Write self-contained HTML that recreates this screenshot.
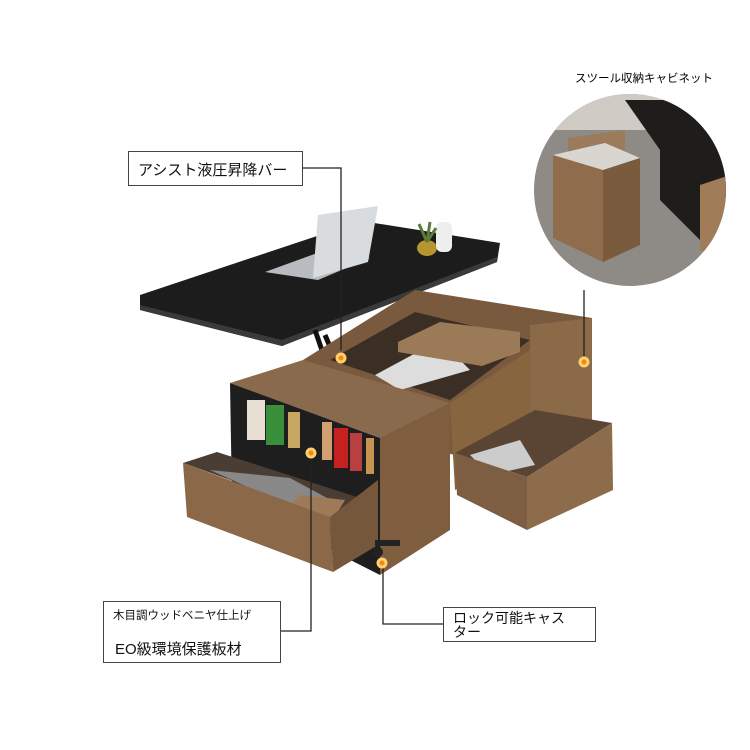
<!DOCTYPE html>
<html><head><meta charset="utf-8"><style>
html,body{margin:0;padding:0;background:#fff;}
body{width:750px;height:750px;position:relative;overflow:hidden;font-family:"Liberation Sans","Noto Sans CJK JP",sans-serif;}
.box{position:absolute;border:1.5px solid #444;background:#fff;color:#111;box-sizing:border-box;}
.t{position:absolute;white-space:nowrap;}
</style></head><body>
<svg width="750" height="750" style="position:absolute;left:0;top:0">
<defs>
<clipPath id="cc"><circle cx="630" cy="190" r="96"/></clipPath>
</defs>
<g clip-path="url(#cc)">
<rect x="530" y="90" width="200" height="200" fill="#8e8a86"/>
<rect x="530" y="90" width="200" height="40" fill="#cfcac4"/>
<polygon points="625,100 730,100 730,250 700,240 660,200 660,150" fill="#1f1d1c"/>
<polygon points="568,138 625,130 625,170 568,178" fill="#9c7b5c"/>
<polygon points="553,155 605,143 640,158 640,175 603,190 553,172" fill="#d9d6d0"/>
<polygon points="553,155 603,170 603,262 553,238" fill="#8f6c4c"/>
<polygon points="603,170 640,158 640,245 603,262" fill="#7b5b3e"/>
<polygon points="700,185 730,175 730,260 700,250" fill="#a07c58"/>
</g>
<polygon points="140,295 362,221 500,243 497,262 282,346 140,310" fill="#1c1c1c"/>
<polygon points="140,305 282,340 497,257 497,262 282,346 140,310" fill="#3a3a3a"/>
<polygon points="265,272 320,252 370,258 318,280" fill="#b8bcc0"/>
<polygon points="318,215 378,206 368,262 313,278" fill="#d9dcdf"/>
<ellipse cx="427" cy="248" rx="10" ry="8" fill="#b8962f"/>
<rect x="436" y="222" width="16" height="30" rx="6" fill="#eeeeee"/>
<path d="M427,242 l-8,-18 M427,242 l3,-20 M427,242 l9,-14" stroke="#5d7a3a" stroke-width="3"/>
<path d="M315,330 l12,35 M325,335 l12,28 M400,300 l15,45 M410,297 l14,40" stroke="#111" stroke-width="5"/>
<polygon points="303,360 415,290 592,318 592,420 455,455 380,438" fill="#7a5a3e"/>
<polygon points="330,360 415,312 530,340 450,400" fill="#3b2e24"/>
<polygon points="375,375 440,340 470,370 400,390" fill="#ddd"/>
<polygon points="398,342 440,322 520,332 520,352 482,366 398,352" fill="#9b7a58"/>
<polygon points="450,403 530,350 530,455 455,490" fill="#87653f"/>
<polygon points="530,325 592,318 592,420 530,455" fill="#8b6a48"/>
<polygon points="230,383 303,360 450,403 380,438" fill="#8a6a4c"/>
<polygon points="380,438 450,403 450,530 380,575" fill="#7f5e40"/>
<polygon points="230,383 380,438 380,575 232,500" fill="#1e1e1e"/>
<rect x="247" y="400" width="18" height="40" fill="#e8e0d5"/>
<rect x="266" y="405" width="18" height="40" fill="#3a8f3a"/>
<rect x="288" y="412" width="12" height="36" fill="#c8a860"/>
<rect x="322" y="422" width="10" height="38" fill="#d0a070"/>
<rect x="334" y="428" width="14" height="40" fill="#c62020"/>
<rect x="350" y="433" width="12" height="38" fill="#b84040"/>
<rect x="366" y="438" width="8" height="36" fill="#c89550"/>
<polygon points="183,463 217,452 360,498 333,517" fill="#4a3d33"/>
<polygon points="210,470 290,478 340,505 320,520" fill="#888"/>
<polygon points="300,495 345,500 330,525 285,510" fill="#9e7a58"/>
<polygon points="183,463 330,517 333,572 187,517" fill="#8a6848"/>
<polygon points="330,517 378,480 378,545 333,572" fill="#75573b"/>
<polygon points="455,453 535,410 612,423 527,477" fill="#5a4535"/>
<polygon points="470,455 520,440 535,465 490,475" fill="#ccc"/>
<polygon points="455,453 527,477 527,530 457,495" fill="#7e5e42"/>
<polygon points="527,477 612,423 613,490 527,530" fill="#8d6c4b"/>
<circle cx="378" cy="552" r="5" fill="#222"/>
<rect x="375" y="540" width="25" height="6" fill="#222"/>
<g stroke="#222" stroke-width="1.3" fill="none">
<polyline points="303,168 341,168 341,350"/>
<polyline points="281,631 311,631 311,458"/>
<polyline points="443,624 383,624 383,565"/>
<line x1="584" y1="290" x2="584" y2="356"/>
</g>
<g fill="#f08a10" stroke="#ffcf70" stroke-width="3">
<circle cx="341" cy="358" r="4"/>
<circle cx="311" cy="453" r="4"/>
<circle cx="382" cy="563" r="4"/>
<circle cx="584" cy="362" r="4"/>
</g>
</svg>
<div class="t" style="left:575px;top:70px;font-size:11.5px;">スツール収納キャビネット</div>
<div class="box" style="left:128px;top:151px;width:175px;height:35px;font-size:15px;padding:7px 0 0 9px;">アシスト液圧昇降バー</div>
<div class="box" style="left:103px;top:601px;width:178px;height:62px;">
<div class="t" style="left:9px;top:5px;font-size:11.5px;">木目調ウッドベニヤ仕上げ</div>
<div class="t" style="left:11px;top:36px;font-size:15px;">EO級環境保護板材</div>
</div>
<div class="box" style="left:443px;top:607px;width:153px;height:35px;font-size:14px;line-height:14px;padding:3px 0 0 9px;white-space:normal;">ロック可能キャス<br>ター</div>
</body></html>
